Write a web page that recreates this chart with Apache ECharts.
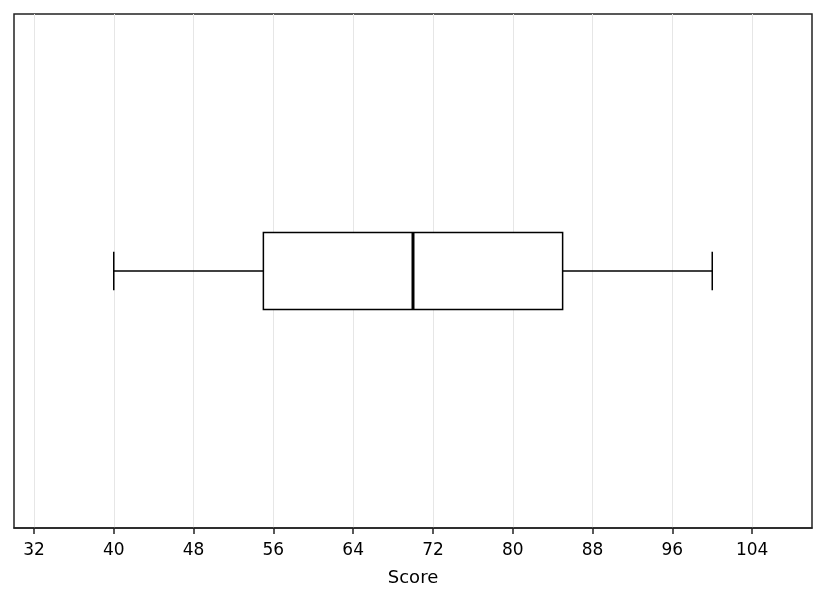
<!DOCTYPE html>
<html lang="en">
<head>
    <meta charset="UTF-8">
    <title>Score boxplot</title>
    <style>
        html, body { margin: 0; padding: 0; background: #fff; }
    </style>
</head>
<body>
    <div id="main" style="width:826px;height:602px;"></div>
    <script src="https://cdn.jsdelivr.net/npm/echarts@6/dist/echarts.min.js"></script>
    <script>
        var myChart = echarts.init(document.getElementById('main'));

        var categories = ['Score'];
        // min, Q1, median, Q3, max
        var boxStats = [[40, 55, 70, 85, 100]];
        var tickValues = [32, 40, 48, 56, 64, 72, 80, 88, 96, 104];

        var boxData = boxStats.map(function (s, i) {
            return [i].concat(s);
        });

        function renderBox(params, api) {
            var cat = api.value(0);
            var lo = api.coord([api.value(1), cat]);
            var q1 = api.coord([api.value(2), cat]);
            var med = api.coord([api.value(3), cat]);
            var q3 = api.coord([api.value(4), cat]);
            var hi = api.coord([api.value(5), cat]);
            var band = api.size([0, 1])[1];
            var halfBox = band * 0.075;
            var halfCap = halfBox / 2;
            var cy = med[1];
            var thin = { stroke: '#000', lineWidth: 1.5, fill: null };
            return {
                type: 'group',
                children: [
                    { type: 'line', shape: { x1: lo[0], y1: cy, x2: q1[0], y2: cy }, style: thin },
                    { type: 'line', shape: { x1: q3[0], y1: cy, x2: hi[0], y2: cy }, style: thin },
                    { type: 'line', shape: { x1: lo[0], y1: cy - halfCap, x2: lo[0], y2: cy + halfCap }, style: thin },
                    { type: 'line', shape: { x1: hi[0], y1: cy - halfCap, x2: hi[0], y2: cy + halfCap }, style: thin },
                    { type: 'rect', shape: { x: q1[0], y: cy - halfBox, width: q3[0] - q1[0], height: halfBox * 2 },
                      style: { stroke: '#000', lineWidth: 1.5, fill: '#fff' } },
                    { type: 'line', shape: { x1: med[0], y1: cy - halfBox, x2: med[0], y2: cy + halfBox },
                      style: { stroke: '#000', lineWidth: 3 } }
                ]
            };
        }

        var option = {
            animation: false,
            grid: {
                left: 14,
                right: 14,
                top: 14,
                bottom: 74,
                show: true,
                borderColor: '#222',
                borderWidth: 1.5,
                backgroundColor: '#fff'
            },
            xAxis: {
                type: 'value',
                min: 30,
                max: 110,
                name: 'Score',
                nameLocation: 'middle',
                nameGap: 41,
                nameTextStyle: { fontFamily: 'DejaVu Sans', fontSize: 18, color: '#000' },
                axisLine: { show: true, lineStyle: { color: '#222', width: 1.5 } },
                axisTick: { show: true, length: 6, customValues: tickValues, lineStyle: { color: '#222', width: 1.5 } },
                axisLabel: {
                    customValues: tickValues,
                    fontFamily: 'DejaVu Sans',
                    fontSize: 17,
                    color: '#000',
                    margin: 14
                },
                splitLine: { show: true, lineStyle: { color: '#e6e6e6', width: 1 } }
            },
            yAxis: {
                type: 'category',
                data: categories,
                axisLine: { show: false },
                axisTick: { show: false },
                axisLabel: { show: false },
                splitLine: { show: false }
            },
            series: [{
                type: 'custom',
                renderItem: renderBox,
                encode: { x: [1, 2, 3, 4, 5], y: 0 },
                data: boxData
            }]
        };

        myChart.setOption(option);
    </script>
</body>
</html>
